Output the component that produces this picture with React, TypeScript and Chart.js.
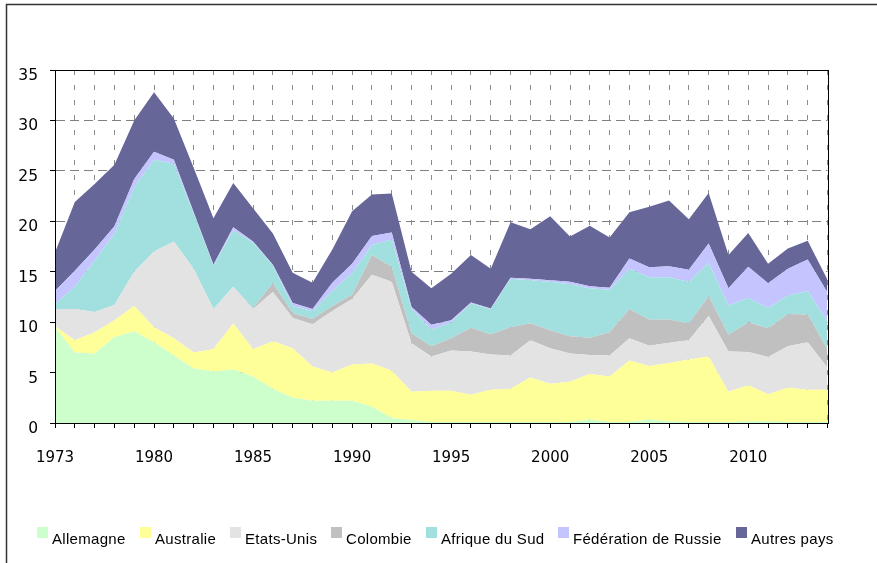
import React, { useEffect, useRef } from 'react';
import { Chart, registerables } from 'chart.js';

Chart.register(...registerables);

// Categories (x axis)
const years = [
  '1973', '1976', '1977', '1978', '1979',
  '1980', '1981', '1982', '1983', '1984', '1985', '1986', '1987', '1988', '1989',
  '1990', '1991', '1992', '1993', '1994', '1995', '1996', '1997', '1998', '1999',
  '2000', '2001', '2002', '2003', '2004', '2005', '2006', '2007', '2008', '2009',
  '2010', '2011', '2012', '2013', '2014',
];
const shownYears = ['1973', '1980', '1985', '1990', '1995', '2000', '2005', '2010'];

// Series values
const allemagne = [9.5, 7.0, 6.9, 8.5, 9.1, 8.0, 6.7, 5.4, 5.1, 5.3, 4.6, 3.4, 2.5, 2.2, 2.2, 2.2, 1.6, 0.5, 0.3, 0.1, 0.1, 0.1, 0.1, 0.1, 0.1, 0.1, 0.1, 0.35, 0.1, 0.1, 0.35, 0.15, 0.1, 0.1, 0.1, 0.15, 0.15, 0.1, 0.1, 0.1];
const australie = [0.1, 1.2, 2.1, 1.7, 2.5, 1.5, 1.7, 1.6, 2.2, 4.6, 2.7, 4.7, 4.9, 3.4, 2.8, 3.6, 4.3, 4.7, 2.8, 3.1, 3.1, 2.7, 3.2, 3.3, 4.4, 3.8, 4.0, 4.5, 4.5, 6.1, 5.3, 5.8, 6.2, 6.5, 3.0, 3.6, 2.7, 3.4, 3.2, 3.2];
const etatsUnis = [1.7, 3.1, 2.0, 1.5, 3.4, 7.5, 9.6, 8.3, 4.0, 3.6, 4.0, 4.9, 3.0, 4.2, 6.1, 6.5, 8.8, 8.8, 4.8, 3.4, 4.0, 4.3, 3.5, 3.3, 3.7, 3.5, 2.8, 1.9, 2.1, 2.2, 2.0, 2.0, 1.9, 4.0, 4.0, 3.3, 3.7, 4.1, 4.7, 2.2];
const colombie = [0, 0, 0, 0, 0, 0, 0, 0, 0, 0, 0.1, 0.9, 0.5, 0.5, 0.5, 0.45, 1.95, 1.5, 1.0, 1.0, 1.2, 2.35, 2.0, 2.8, 1.7, 1.8, 1.7, 1.7, 2.3, 2.9, 2.6, 2.3, 1.7, 2.0, 1.65, 2.95, 2.85, 3.2, 2.75, 1.8];
const afriqueDuSud = [0.5, 2.2, 5.1, 7.1, 8.4, 9.1, 7.7, 5.5, 4.3, 5.6, 6.5, 1.7, 0.7, 0.8, 1.5, 2.15, 1.0, 2.7, 2.45, 1.65, 1.6, 2.4, 2.5, 4.8, 4.25, 4.8, 5.15, 4.9, 4.2, 4.0, 4.2, 4.2, 4.1, 3.3, 2.9, 2.4, 2.0, 1.85, 2.35, 2.8];
const russie = [1.3, 1.6, 1.1, 0.7, 0.8, 0.8, 0.4, 0.1, 0.1, 0.3, 0.1, 0.1, 0.3, 0.2, 0.8, 0.9, 0.9, 0.7, 0.15, 0.5, 0.2, 0.1, 0.05, 0.1, 0.15, 0.15, 0.25, 0.2, 0.2, 1.0, 1.0, 1.1, 1.2, 1.9, 1.7, 3.1, 2.45, 2.65, 3.1, 2.85];
const autresPays = [3.8, 6.8, 6.5, 6.1, 5.8, 5.9, 4.1, 4.4, 4.6, 4.4, 3.3, 3.1, 3.0, 2.6, 3.3, 5.2, 4.1, 3.85, 3.5, 3.6, 4.6, 4.7, 3.95, 5.5, 4.9, 6.35, 4.5, 6.0, 5.0, 4.6, 6.0, 6.5, 5.0, 5.0, 3.3, 3.35, 1.95, 2.0, 1.86, 1.25];

const seriesNames = ['Allemagne', 'Australie', 'Etats-Unis', 'Colombie', 'Afrique du Sud', 'Fédération de Russie', 'Autres pays'];
const seriesValues = [allemagne, australie, etatsUnis, colombie, afriqueDuSud, russie, autresPays];
const seriesColors = ['#CCFFCC', '#FFFF99', '#E3E3E3', '#C0C0C0', '#A2E0E0', '#C4C4FF', '#666699'];

const W = 877;
const H = 563;
const LEGEND_FONT = '15px "Liberation Sans", Arial, sans-serif';

const framePlugin = {
  id: 'frame',
  afterDraw(chart: any) {
    const ctx = chart.ctx;
    const a = chart.chartArea;
    ctx.save();
    ctx.strokeStyle = '#000';
    ctx.lineWidth = 1;
    ctx.setLineDash([]);
    ctx.strokeRect(Math.round(a.left) + 0.5, Math.round(a.top) + 0.5, Math.round(a.right - a.left), Math.round(a.bottom - a.top));
    ctx.strokeStyle = '#333';
    ctx.lineWidth = 1.5;
    ctx.beginPath();
    ctx.moveTo(6.5, H);
    ctx.lineTo(6.5, 4.5);
    ctx.lineTo(W, 4.5);
    ctx.stroke();
    ctx.restore();
  },
};

const legendPlugin = {
  id: 'customLegend',
  afterDraw(chart: any) {
    const ctx = chart.ctx;
    ctx.save();
    ctx.font = LEGEND_FONT;
    (ctx as any).letterSpacing = '0.3px';
    const box = 11;
    const gapBoxText = 4;
    const itemGap = 14;
    const widths = seriesNames.map((n) => ctx.measureText(n).width);
    const total = widths.reduce((s, w) => s + box + gapBoxText + w, 0) + itemGap * (seriesNames.length - 1);
    let x = 435 - total / 2;
    const boxTop = 527;
    const baseline = 543.5;
    ctx.textBaseline = 'alphabetic';
    ctx.textAlign = 'left';
    seriesNames.forEach((name, i) => {
      ctx.fillStyle = seriesColors[i];
      ctx.fillRect(Math.round(x), boxTop, box, box);
      ctx.fillStyle = '#000';
      ctx.fillText(name, Math.round(x) + box + gapBoxText, baseline);
      x += box + gapBoxText + widths[i] + itemGap;
    });
    ctx.restore();
  },
};

export default function App() {
  const ref = useRef<HTMLCanvasElement>(null);

  useEffect(() => {
    if (!ref.current) return;
    const chart = new Chart(ref.current, {
      type: 'line',
      data: {
        labels: years,
        datasets: seriesNames.map((name, i) => ({
          label: name,
          data: seriesValues[i],
          backgroundColor: seriesColors[i],
          borderColor: seriesColors[i],
          borderWidth: 0,
          pointRadius: 0,
          pointHoverRadius: 0,
          tension: 0,
          fill: i === 0 ? 'origin' : '-1',
        })),
      },
      options: {
        animation: false,
        responsive: false,
        devicePixelRatio: 1,
        layout: { padding: { top: 70, right: 49.5, left: 0, bottom: 0 } },
        plugins: {
          legend: { display: false },
          tooltip: { enabled: false },
          title: { display: false },
        },
        scales: {
          x: {
            type: 'category',
            offset: false,
            grid: {
              display: true,
              color: '#8c8c8c',
              lineWidth: 1,
              drawTicks: true,
              tickLength: 5,
              tickColor: '#000',
              tickBorderDash: [],
            },
            border: { display: true, color: '#000', width: 1, dash: [5, 10] },
            ticks: {
              autoSkip: false,
              maxRotation: 0,
              minRotation: 0,
              padding: 21,
              color: '#000',
              font: { family: '"DejaVu Sans", sans-serif', size: 15 },
              callback: function (this: any, value: any, index: number) {
                const lab = years[index];
                return shownYears.includes(lab) ? lab : '';
              },
            },
            afterFit: (scale: any) => {
              scale.height = 140;
            },
          },
          y: {
            stacked: true,
            min: 0,
            max: 35,
            grid: {
              display: true,
              color: '#808080',
              lineWidth: 1,
              drawTicks: true,
              tickLength: 5,
              tickColor: '#000',
              tickBorderDash: [],
            },
            border: { display: true, color: '#000', width: 1, dash: [9, 5] },
            ticks: {
              stepSize: 5,
              padding: 12,
              labelOffset: 6,
              color: '#000',
              font: { family: '"DejaVu Sans", sans-serif', size: 15.5 },
            },
            afterFit: (scale: any) => {
              scale.width = 55;
            },
          },
        },
      } as any,
      plugins: [framePlugin, legendPlugin],
    });
    return () => chart.destroy();
  }, []);

  return (
    <div style={{ position: 'fixed', left: 0, top: 0, width: W, height: H, background: '#fff' }}>
      <canvas ref={ref} width={W} height={H} style={{ width: W, height: H, display: 'block' }} />
    </div>
  );
}
